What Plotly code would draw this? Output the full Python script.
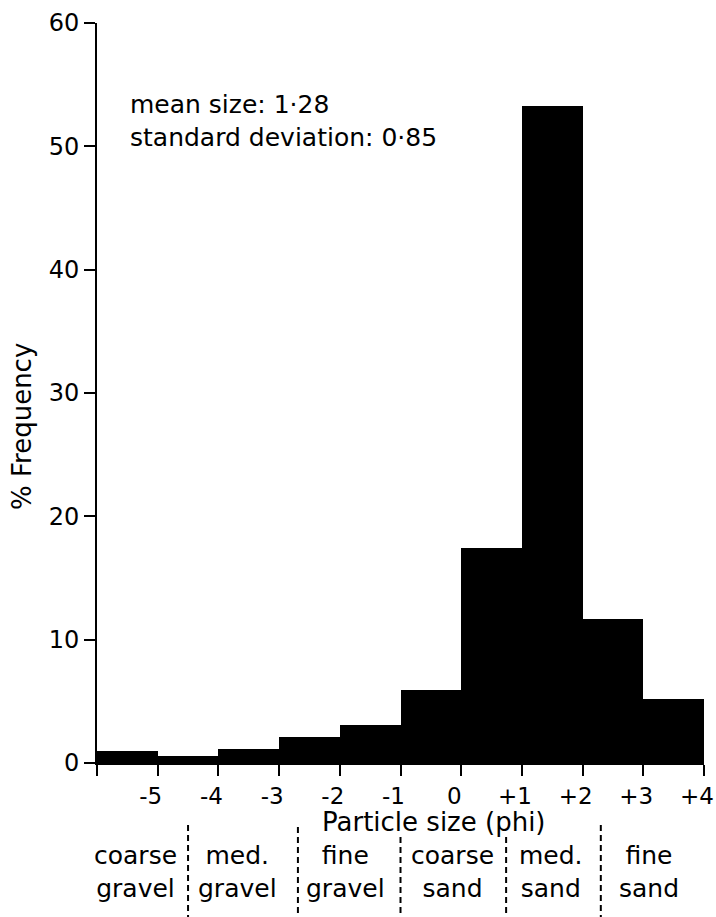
import plotly.graph_objects as go

# ---- data ----
bin_left = [-6, -5, -4, -3, -2, -1, 0, 1, 2, 3]
frequency = [1.0, 0.6, 1.1, 2.1, 3.1, 5.9, 17.4, 53.3, 11.7, 5.2]
x_tickvals = [-6, -5, -4, -3, -2, -1, 0, 1, 2, 3, 4]
x_ticktext = ["", "-5", "-4", "-3", "-2", "-1", "0", "+1", "+2", "+3", "+4"]
y_tickvals = [0, 10, 20, 30, 40, 50, 60]
class_names = ["coarse<br>gravel", "med.<br>gravel", "fine<br>gravel",
               "coarse<br>sand", "med.<br>sand", "fine<br>sand"]
class_centers = [-5.36, -3.68, -1.91, -0.15, 1.48, 3.09]
class_bounds = [-4.5, -2.69, -1.0, 0.74, 2.30]
stats_text = ["mean size: 1·28", "standard deviation: 0·85"]

FONT = "DejaVu Sans"
BLACK = "#000000"

bin_centers = [b + 0.5 for b in bin_left]

fig = go.Figure()
fig.add_trace(go.Bar(
    x=bin_centers, y=frequency, width=[1.0] * len(bin_centers),
    marker=dict(color=BLACK, line=dict(width=0)),
    hoverinfo="x+y", showlegend=False,
))

fig.update_layout(
    width=716, height=917, autosize=False,
    margin=dict(l=97, r=12, t=23, b=154, autoexpand=False),
    paper_bgcolor="white", plot_bgcolor="white",
    font=dict(family=FONT, color=BLACK, size=23),
    bargap=0,
    showlegend=False,
)

fig.update_xaxes(
    range=[-6, 4], tickmode="array", tickvals=x_tickvals, ticktext=x_ticktext,
    showline=True, linecolor=BLACK, linewidth=2, mirror=False,
    ticks="outside", ticklen=11, tickwidth=2, tickcolor=BLACK,
    showgrid=False, zeroline=False, ticklabeloverflow="allow", automargin=False,
    ticklabelshift=-7,
    tickfont=dict(family=FONT, size=23, color=BLACK),
)
fig.update_yaxes(
    range=[0, 60], tickmode="array", tickvals=y_tickvals,
    showline=True, linecolor=BLACK, linewidth=2,
    ticks="outside", ticklen=11, tickwidth=2, tickcolor=BLACK,
    showgrid=False, zeroline=False, ticklabeloverflow="allow", automargin=False,
    tickfont=dict(family=FONT, size=24, color=BLACK),
)

ann = []
# stats text
ann.append(dict(x=-5.49, y=(763 - 105) / 740, xref="x", yref="paper",
                text=stats_text[0], showarrow=False, xanchor="left", yanchor="middle",
                font=dict(family=FONT, size=25, color=BLACK)))
ann.append(dict(x=-5.49, y=(763 - 137) / 740, xref="x", yref="paper",
                text=stats_text[1], showarrow=False, xanchor="left", yanchor="middle",
                font=dict(family=FONT, size=25, color=BLACK)))
# y title
ann.append(dict(x=(22 - 97) / 607, y=(763 - 427) / 740, xref="paper", yref="paper",
                text="% Frequency", showarrow=False, textangle=-90,
                xanchor="center", yanchor="middle",
                font=dict(family=FONT, size=26, color=BLACK)))
# x title
ann.append(dict(x=-0.44, y=(763 - 822) / 740, xref="x", yref="paper",
                text="Particle size (phi)", showarrow=False,
                xanchor="center", yanchor="middle",
                font=dict(family=FONT, size=26, color=BLACK)))
# class labels
for name, cx in zip(class_names, class_centers):
    ann.append(dict(x=cx, y=(763 - 872) / 740, xref="x", yref="paper",
                    text=name, showarrow=False, xanchor="center", yanchor="middle",
                    align="center",
                    font=dict(family=FONT, size=25, color=BLACK)))
fig.update_layout(annotations=ann)

# dashed class boundaries
starts = [825, 827, 837, 837, 825]
shapes = []
for bx, sy in zip(class_bounds, starts):
    shapes.append(dict(type="line", xref="x", yref="paper",
                       x0=bx, x1=bx, y0=(763 - sy) / 740, y1=(763 - 917) / 740,
                       line=dict(color=BLACK, width=2, dash="6px,4px")))
fig.update_layout(shapes=shapes)

fig.write_html(
    "out.html",
    config={"displayModeBar": False, "responsive": False},
    default_width="716px", default_height="917px",
    post_script="document.body.style.margin='0';",
)
